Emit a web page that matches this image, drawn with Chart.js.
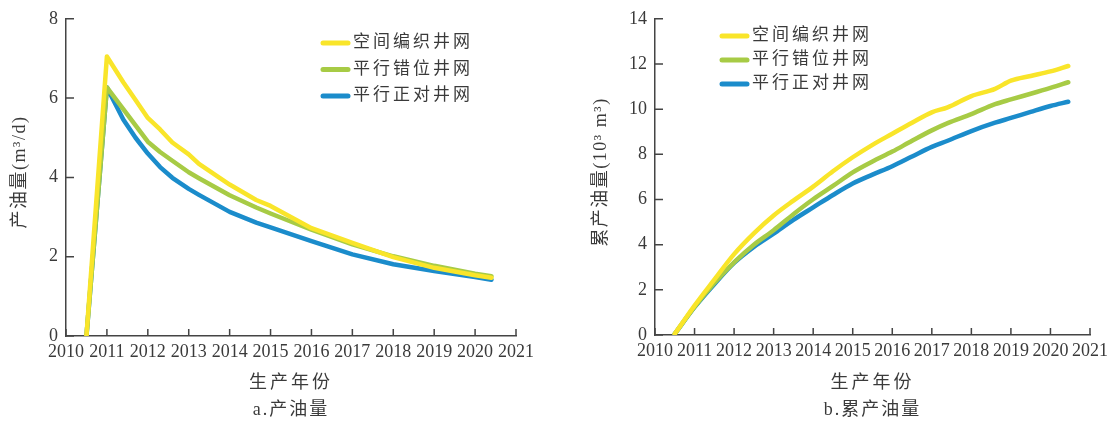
<!DOCTYPE html>
<html>
<head>
<meta charset="utf-8">
<script src="https://cdn.jsdelivr.net/npm/chart.js@4.4.1/dist/chart.umd.min.js"></script>
<style>
    body { margin: 0; background: #fff; }
    .panel { position: absolute; top: 0; height: 422px; }
    #p1 { left: 0; width: 540px; }
    #p2 { left: 556px; width: 557px; }
</style>
</head>
<body>
<div class="panel" id="p1"><canvas id="rateChart"></canvas></div>
<div class="panel" id="p2"><canvas id="cumChart"></canvas></div>
<script>
// Series names
const seriesNames = ['空间编织井网', '平行错位井网', '平行正对井网'];
const seriesColors = ['#f9e52a', '#a7cb45', '#1b8ccb'];

// a. 产油量 (m3/d)
const rateYears = [2010.5, 2011.0, 2011.4, 2011.7, 2012.0, 2012.3, 2012.6, 2013.0, 2013.25, 2014.0, 2014.65, 2015.0, 2016.0, 2017.0, 2018.0, 2019.0, 2020.0, 2020.4];
const rateWeave = [0, 7.05, 6.4, 5.95, 5.5, 5.21, 4.88, 4.58, 4.34, 3.82, 3.43, 3.28, 2.72, 2.35, 1.99, 1.72, 1.53, 1.47];
const rateStagger = [0, 6.27, 5.72, 5.31, 4.9, 4.64, 4.42, 4.13, 3.98, 3.55, 3.24, 3.09, 2.68, 2.31, 2.01, 1.77, 1.57, 1.51];
const rateAligned = [0, 6.27, 5.46, 5.0, 4.6, 4.26, 3.99, 3.71, 3.56, 3.13, 2.86, 2.74, 2.39, 2.06, 1.81, 1.64, 1.49, 1.42];

// b. 累产油量 (10^3 m3)
const cumYears = [2010.5, 2011.0, 2011.5, 2012.0, 2012.5, 2013.0, 2013.5, 2014.0, 2014.5, 2015.0, 2015.5, 2016.0, 2016.5, 2017.0, 2017.4, 2018.0, 2018.6, 2019.0, 2019.5, 2020.0, 2020.45];
const cumWeave = [0.05, 1.3, 2.45, 3.58, 4.5, 5.29, 5.95, 6.57, 7.25, 7.87, 8.42, 8.91, 9.4, 9.86, 10.08, 10.58, 10.9, 11.26, 11.47, 11.67, 11.91];
const cumStagger = [0.05, 1.25, 2.3, 3.22, 4.0, 4.64, 5.35, 6.01, 6.6, 7.2, 7.68, 8.12, 8.6, 9.06, 9.38, 9.78, 10.22, 10.43, 10.68, 10.94, 11.19];
const cumAligned = [0.05, 1.23, 2.25, 3.19, 3.9, 4.49, 5.1, 5.65, 6.2, 6.71, 7.1, 7.47, 7.9, 8.33, 8.6, 9.03, 9.4, 9.61, 9.88, 10.14, 10.33];

const FONT = '"Liberation Serif", "Noto Sans CJK SC", serif';
const TEXT = '#3a3a3a';

function toPoints(xs, ys) {
    return xs.map((x, i) => ({ x: x, y: ys[i] }));
}

function makeDatasets(xs, seriesList, tension) {
    return seriesList.map((ys, i) => ({
        label: seriesNames[i],
        data: toPoints(xs, ys),
        borderColor: seriesColors[i],
        backgroundColor: seriesColors[i],
        borderWidth: 4.5,
        pointRadius: 0,
        tension: tension,
        cubicInterpolationMode: tension ? 'monotone' : 'default',
        borderCapStyle: 'round',
        borderJoinStyle: 'round'
    }));
}

// inward tick marks on both axes
const innerTicks = {
    id: 'innerTicks',
    beforeDatasetsDraw(chart) {
        const { ctx, chartArea, scales: { x, y } } = chart;
        ctx.save();
        ctx.strokeStyle = '#444';
        ctx.lineWidth = 1.5;
        ctx.beginPath();
        x.ticks.forEach(t => {
            const px = x.getPixelForValue(t.value);
            ctx.moveTo(px, chartArea.bottom);
            ctx.lineTo(px, chartArea.bottom - 7);
        });
        y.ticks.forEach(t => {
            const py = y.getPixelForValue(t.value);
            ctx.moveTo(chartArea.left, py);
            ctx.lineTo(chartArea.left + 8, py);
        });
        ctx.stroke();
        ctx.restore();
    }
};

// legend, axis titles and caption
const annotations = {
    id: 'annotations',
    afterDraw(chart, args, opts) {
        const { ctx, chartArea } = chart;
        const cx = (chartArea.left + chartArea.right) / 2;
        ctx.save();
        ctx.fillStyle = TEXT;
        ctx.textAlign = 'center';
        ctx.textBaseline = 'middle';
        ctx.font = '18px ' + FONT;
        ctx.letterSpacing = '3px';
        ctx.fillText(opts.xTitle, cx, 383);
        ctx.letterSpacing = '2px';
        ctx.fillText(opts.caption, cx, 410);

        // legend
        ctx.font = '17px ' + FONT;
        ctx.letterSpacing = '3px';
        ctx.textAlign = 'left';
        chart.data.datasets.forEach((ds, i) => {
            const ly = opts.legendY + i * opts.legendDy;
            ctx.strokeStyle = ds.borderColor;
            ctx.lineWidth = 5;
            ctx.lineCap = 'round';
            ctx.beginPath();
            ctx.moveTo(opts.legendX, ly);
            ctx.lineTo(opts.legendX + 25, ly);
            ctx.stroke();
            ctx.fillText(ds.label, opts.legendX + 30, ly);
        });

        // y title
        ctx.font = '18px ' + FONT;
        ctx.letterSpacing = '1.5px';
        ctx.textAlign = 'center';
        ctx.translate(opts.yTitleX, opts.yTitleY);
        ctx.rotate(-Math.PI / 2);
        ctx.fillText(opts.yTitle, 0, 0);
        ctx.restore();
    }
};

function buildChart(canvasId, cfg) {
    return new Chart(document.getElementById(canvasId), {
        type: 'line',
        data: { datasets: cfg.datasets },
        options: {
            responsive: true,
            maintainAspectRatio: false,
            animation: false,
            layout: { padding: cfg.padding },
            plugins: {
                legend: { display: false },
                tooltip: { enabled: false },
                annotations: cfg.text
            },
            scales: {
                x: {
                    type: 'linear',
                    min: 2010,
                    max: 2021,
                    afterFit: s => { s.height = cfg.xHeight; },
                    grid: { display: false, drawTicks: false },
                    border: { display: true, color: '#444', width: 1.5 },
                    ticks: {
                        stepSize: 1,
                        padding: 5,
                        maxRotation: 0,
                        autoSkip: false,
                        color: TEXT,
                        font: { family: FONT, size: 18 },
                        callback: v => String(v)
                    }
                },
                y: {
                    min: 0,
                    max: cfg.yMax,
                    afterFit: s => { s.width = cfg.yWidth; },
                    grid: { display: false, drawTicks: false },
                    border: { display: true, color: '#444', width: 1.5 },
                    ticks: {
                        stepSize: 2,
                        padding: 8,
                        color: TEXT,
                        font: { family: FONT, size: 18 }
                    }
                }
            }
        },
        plugins: [innerTicks, annotations]
    });
}

buildChart('rateChart', {
    datasets: makeDatasets(rateYears, [rateWeave, rateStagger, rateAligned], 0),
    yMax: 8,
    yWidth: 66,
    xHeight: 86,
    padding: { left: 0, right: 24, top: 15, bottom: 0 },
    text: {
        xTitle: '生产年份',
        caption: 'a.产油量',
        yTitle: '产油量(m³/d)',
        yTitleX: 20,
        yTitleY: 172,
        legendX: 323,
        legendY: 43,
        legendDy: 26.5
    }
});

buildChart('cumChart', {
    datasets: makeDatasets(cumYears, [cumWeave, cumStagger, cumAligned], 0.3),
    yMax: 14,
    yWidth: 99,
    xHeight: 87,
    padding: { left: 0, right: 22, top: 13, bottom: 0 },
    text: {
        xTitle: '生产年份',
        caption: 'b.累产油量',
        yTitle: '累产油量(10³ m³)',
        yTitleX: 45,
        yTitleY: 172,
        legendX: 166,
        legendY: 36,
        legendDy: 24
    }
});
</script>
</body>
</html>
